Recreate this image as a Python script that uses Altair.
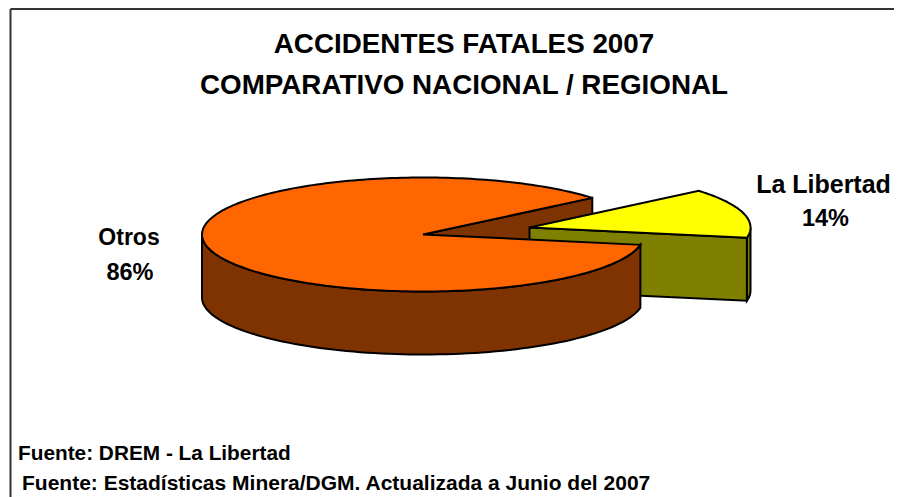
import math
import altair as alt
import pandas as pd

CATEGORIES = ["Otros", "La Libertad"]
SHARES = [86, 14]
TITLE_LINES = ["ACCIDENTES FATALES 2007", "COMPARATIVO NACIONAL / REGIONAL"]
FOOTERS = ["Fuente: DREM - La Libertad",
           "Fuente: Estadísticas Minera/DGM. Actualizada a Junio del 2007"]

# layout of the tilted pie (page pixels)
RX, RY, DEPTH = 221, 57, 63
MAIN_C = (423, 234.5)
SLICE_C = (529.5, 227.5)
START = 40.0  # where the La Libertad slice begins, degrees

sweep = SHARES[1] / sum(SHARES) * 360
END = START - sweep


def pt(c, deg, drop=0):
    a = math.radians(deg)
    return (c[0] + RX * math.cos(a), c[1] - RY * math.sin(a) + drop)


def arc(c, a0, a1, drop=0, n=90):
    return [pt(c, a0 + (a1 - a0) * i / n, drop) for i in range(n + 1)]


def down(p):
    return (p[0], p[1] + DEPTH)


# every outline is derived from the shares above
polys = [
    # back cut wall of the main pie
    ("#7F3300", [MAIN_C, pt(MAIN_C, START), down(pt(MAIN_C, START)), down(MAIN_C)]),
    # La Libertad: outer wall, cut face, top
    ("#808000", arc(SLICE_C, END, 0) + arc(SLICE_C, 0, END, DEPTH)),
    ("#808000", [SLICE_C, pt(SLICE_C, END), down(pt(SLICE_C, END)), down(SLICE_C)]),
    ("#FFFF00", [SLICE_C] + arc(SLICE_C, START, END)),
    # main pie: outer wall and top
    ("#7F3300", arc(MAIN_C, END, -180) + arc(MAIN_C, -180, END, DEPTH)),
    ("#FF6600", [MAIN_C] + arc(MAIN_C, START, END + 360, n=240)),
]

X = alt.X("x:Q", axis=None, scale=alt.Scale(domain=[8, 894], range=[0, 886]))
Y = alt.Y("y:Q", axis=None, scale=alt.Scale(domain=[8, 497], range=[0, 489]))

layers = []
for color, pts in polys:
    df = pd.DataFrame([{"x": p[0], "y": p[1], "i": i} for i, p in enumerate(pts)])
    layers.append(
        alt.Chart(df).mark_line(fill=color, stroke="black", strokeWidth=2,
                                interpolate="linear-closed", clip=False)
        .encode(x=X, y=Y, order="i:Q")
    )

# frame: only left and top edges show in the reference
for fr in ([(10.5, 9), (10.5, 497)], [(10.5, 9), (894, 9)]):
    df = pd.DataFrame([{"x": p[0], "y": p[1], "i": i} for i, p in enumerate(fr)])
    layers.append(alt.Chart(df).mark_line(stroke="#333333", strokeWidth=2)
                  .encode(x=X, y=Y, order="i:Q"))

texts = [
    (TITLE_LINES[0], 464, 45, 27.8, "center"),
    (TITLE_LINES[1], 464, 86, 27.8, "center"),
    (CATEGORIES[1], 823.5, 185, 25, "center"),
    (f"{SHARES[1]}%", 825.5, 219, 23.5, "center"),
    (CATEGORIES[0], 129, 238, 23, "center"),
    (f"{SHARES[0]}%", 130, 273, 23.5, "center"),
    (FOOTERS[0], 18, 454, 20.8, "left"),
    (FOOTERS[1], 22, 484, 21, "left"),
]
for txt, x, y, size, al in texts:
    df = pd.DataFrame([{"x": x, "y": y, "t": txt}])
    layers.append(
        alt.Chart(df).mark_text(font="Liberation Sans", fontWeight="bold", fontSize=size,
                                align=al, baseline="middle", color="black")
        .encode(x=X, y=Y, text="t:N")
    )

chart = (
    alt.layer(*layers)
    .properties(width=886, height=489, padding=0, background="white",
                autosize=alt.AutoSizeParams(type="none"))
    .configure_view(stroke=None)
)
chart.save("out.html", embed_options={"renderer": "svg", "actions": False})
